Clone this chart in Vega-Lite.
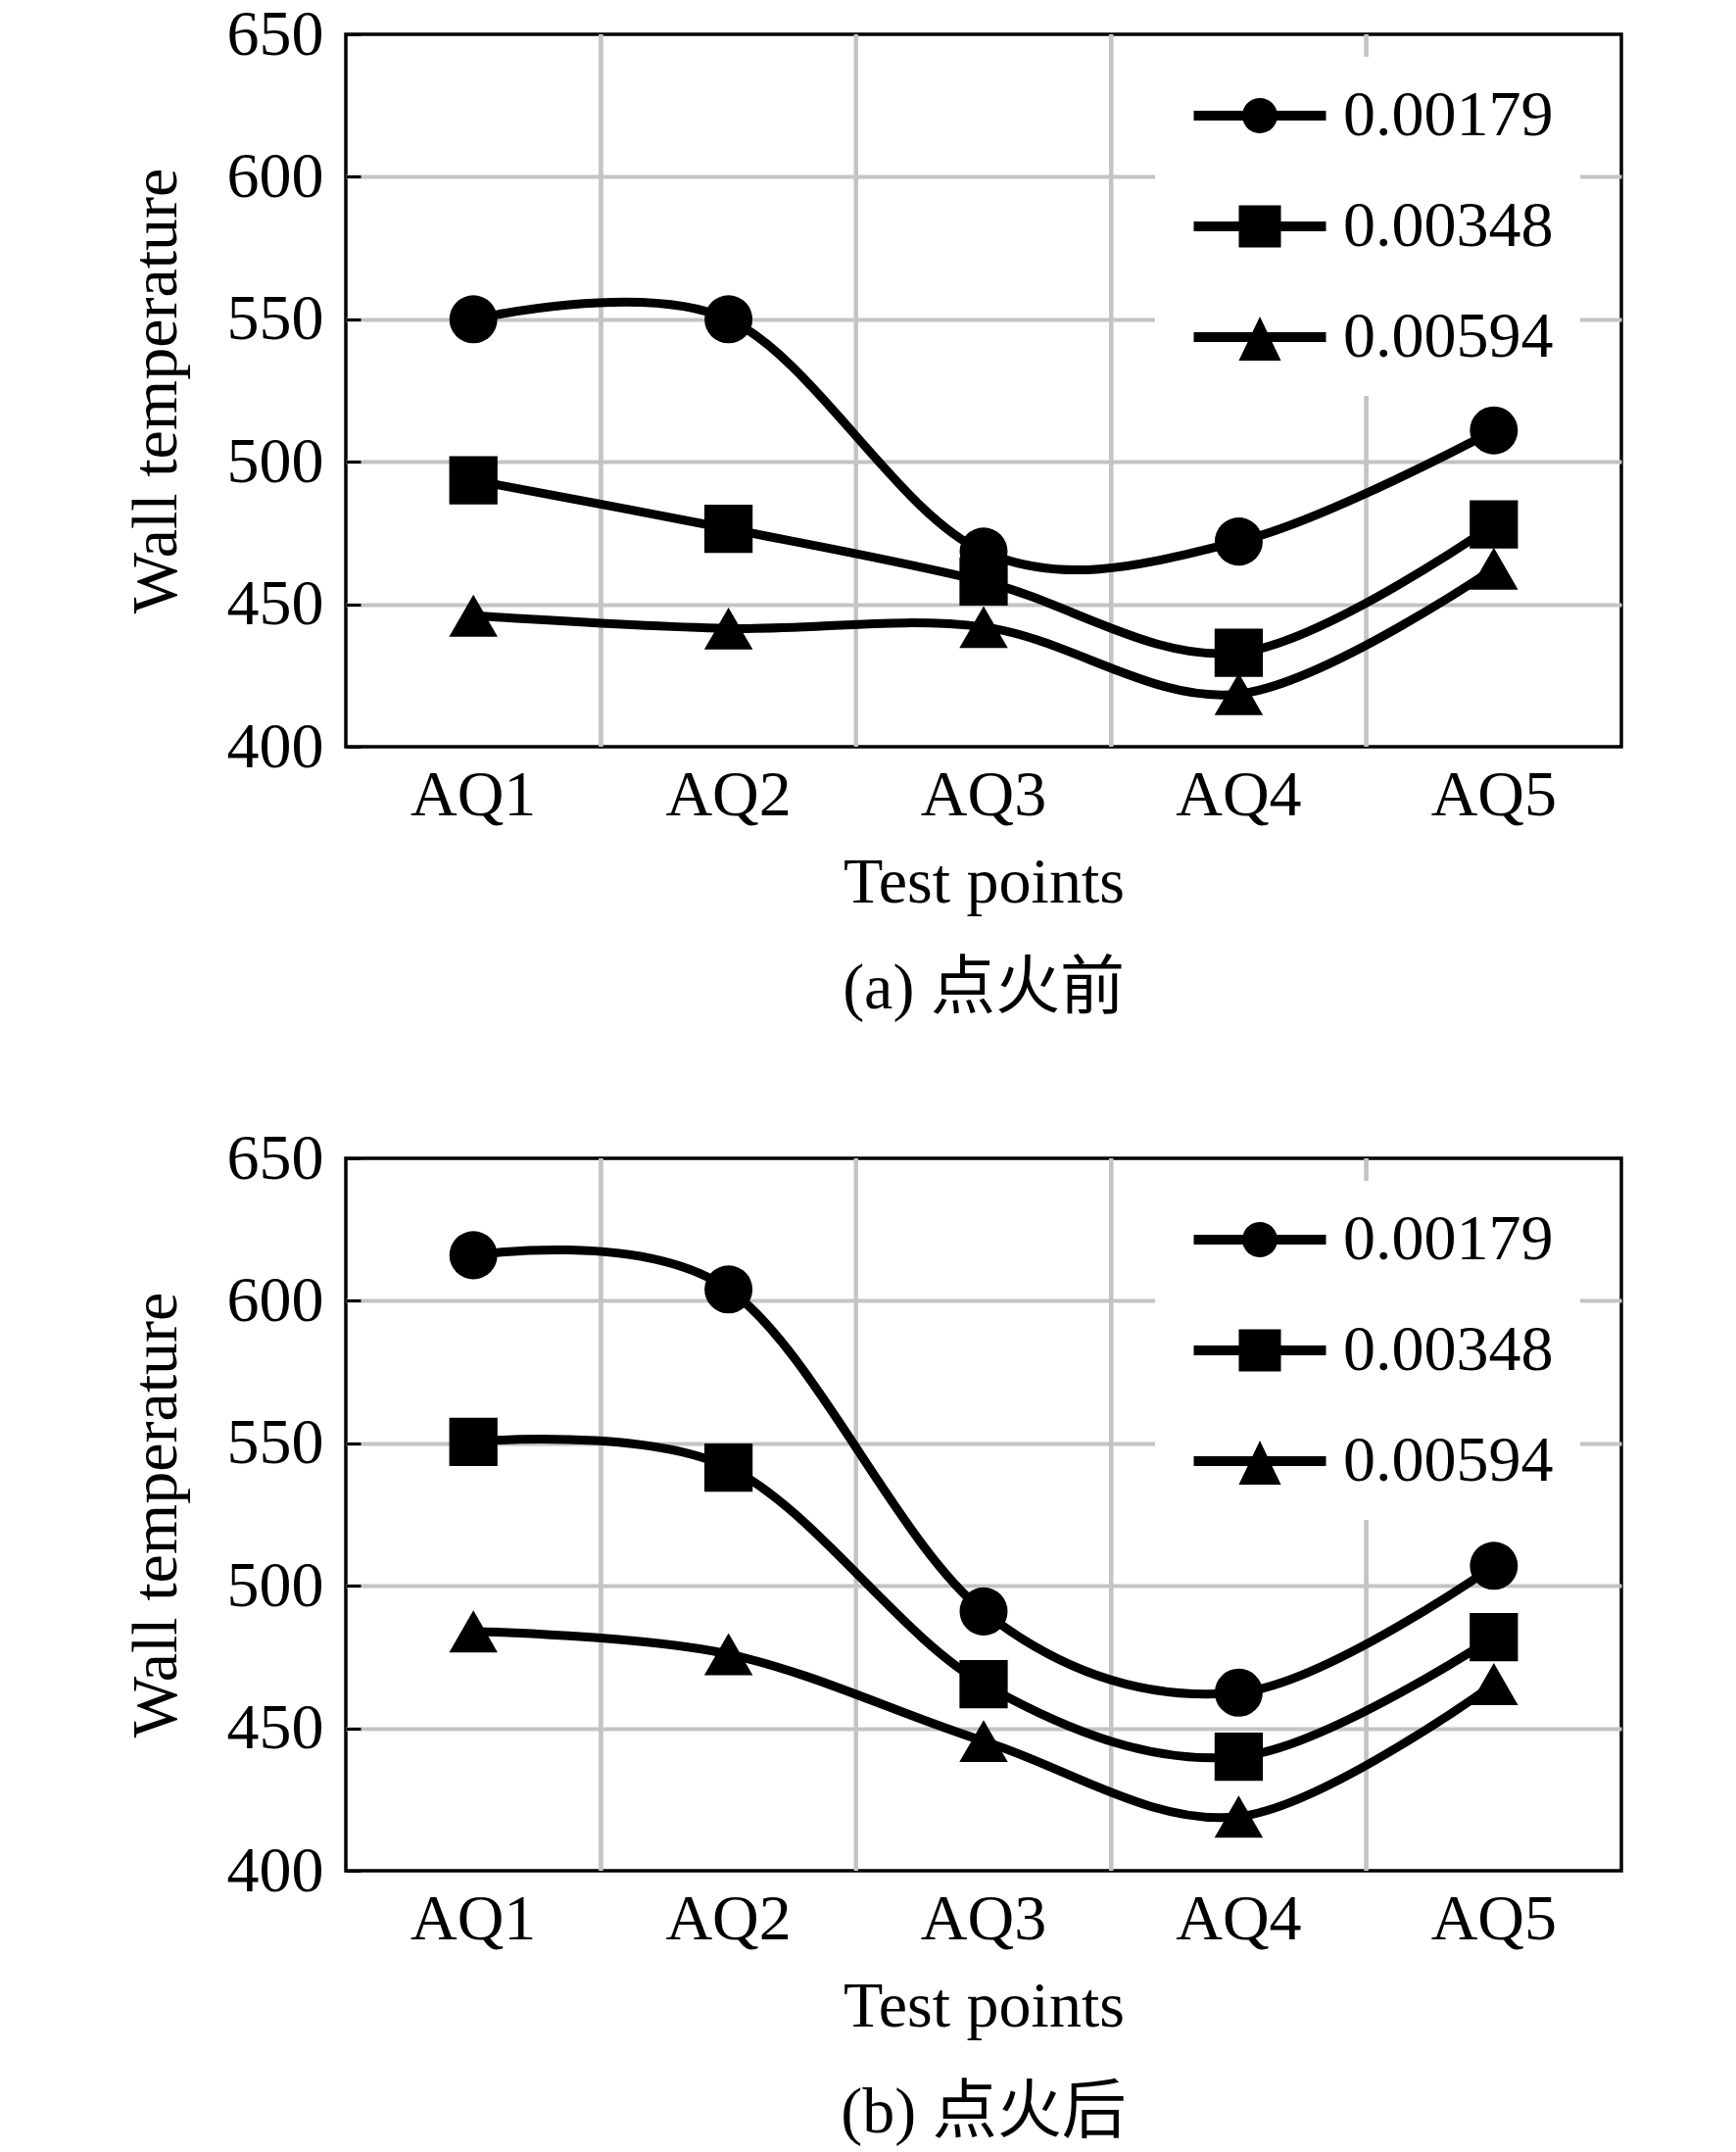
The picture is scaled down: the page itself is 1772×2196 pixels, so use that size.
{
  "$schema": "https://vega.github.io/schema/vega-lite/v6.json",
  "background": "white",
  "padding": {"left": 124, "top": 0, "right": 5, "bottom": 5},
  "datasets": {
    "before": [
      {"point": "AQ1", "series": "0.00179", "temp": 550},
      {"point": "AQ2", "series": "0.00179", "temp": 550},
      {"point": "AQ3", "series": "0.00179", "temp": 468.5},
      {"point": "AQ4", "series": "0.00179", "temp": 472},
      {"point": "AQ5", "series": "0.00179", "temp": 511},
      {"point": "AQ1", "series": "0.00348", "temp": 493.5},
      {"point": "AQ2", "series": "0.00348", "temp": 476.5},
      {"point": "AQ3", "series": "0.00348", "temp": 458},
      {"point": "AQ4", "series": "0.00348", "temp": 433},
      {"point": "AQ5", "series": "0.00348", "temp": 478},
      {"point": "AQ1", "series": "0.00594", "temp": 446},
      {"point": "AQ2", "series": "0.00594", "temp": 441.5},
      {"point": "AQ3", "series": "0.00594", "temp": 442},
      {"point": "AQ4", "series": "0.00594", "temp": 418.5},
      {"point": "AQ5", "series": "0.00594", "temp": 462.5}
    ],
    "after": [
      {"point": "AQ1", "series": "0.00179", "temp": 616},
      {"point": "AQ2", "series": "0.00179", "temp": 604},
      {"point": "AQ3", "series": "0.00179", "temp": 491},
      {"point": "AQ4", "series": "0.00179", "temp": 462.5},
      {"point": "AQ5", "series": "0.00179", "temp": 507},
      {"point": "AQ1", "series": "0.00348", "temp": 550.5},
      {"point": "AQ2", "series": "0.00348", "temp": 541.5},
      {"point": "AQ3", "series": "0.00348", "temp": 465.5},
      {"point": "AQ4", "series": "0.00348", "temp": 440},
      {"point": "AQ5", "series": "0.00348", "temp": 482},
      {"point": "AQ1", "series": "0.00594", "temp": 484},
      {"point": "AQ2", "series": "0.00594", "temp": 476},
      {"point": "AQ3", "series": "0.00594", "temp": 445.5},
      {"point": "AQ4", "series": "0.00594", "temp": 419},
      {"point": "AQ5", "series": "0.00594", "temp": 465.5}
    ]
  },
  "spacing": 103,
  "vconcat": [
    {
      "data": {"name": "before"},
      "width": 1302,
      "height": 727,
      "title": {"text": "(a) 点火前", "orient": "bottom", "offset": 44, "anchor": "middle", "frame": "group"},
      "layer": [
        {
          "transform": [{"filter": "datum.point !== 'AQ1'"}],
          "mark": {"type": "rule", "color": "#c4c4c4", "strokeWidth": 4},
          "encoding": {
            "x": {"field": "point", "type": "ordinal", "bandPosition": 0, "scale": {"type": "band", "paddingInner": 0, "paddingOuter": 0},
              "axis": {"title": "Test points", "labelAngle": 0, "ticks": false, "domain": false, "grid": false, "labelPadding": 17, "titlePadding": 24}}
          }
        },
        {
          "mark": {"type": "line", "interpolate": "cardinal", "color": "black", "strokeWidth": 9},
          "encoding": {
            "x": {"field": "point", "type": "ordinal", "bandPosition": 0.5},
            "y": {"field": "temp", "type": "quantitative", "scale": {"domain": [400, 650], "nice": false, "zero": false},
              "axis": {"title": "Wall temperature", "values": [400, 450, 500, 550, 600, 650], "domain": false, "tickSize": -15, "labelPadding": 38, "titlePadding": 38,
                "gridColor": {"condition": {"test": "datum.value === 400 || datum.value === 650", "value": "transparent"}, "value": "#c4c4c4"}}},
            "detail": {"field": "series", "type": "nominal"}
          }
        },
        {
          "mark": {"type": "point", "filled": true, "color": "black", "opacity": 1},
          "encoding": {
            "x": {"field": "point", "type": "ordinal", "bandPosition": 0.5},
            "y": {"field": "temp", "type": "quantitative"},
            "shape": {"field": "series", "type": "nominal", "scale": {"domain": ["0.00179", "0.00348", "0.00594"], "range": ["circle", "square", "triangle-up"]}, "legend": null},
            "size": {"field": "series", "type": "nominal", "scale": {"domain": ["0.00179", "0.00348", "0.00594"], "range": [2400, 2450, 2800]}, "legend": null}
          }
        },
        {
          "transform": [{"filter": "false"}],
          "mark": {"type": "point", "filled": true, "color": "black", "opacity": 1, "size": 4356, "strokeWidth": 0},
          "encoding": {
            "shape": {"field": "series", "type": "nominal",
              "scale": {"domain": ["0.00179", "0.00348", "0.00594"], "range": [
                "M-2.045,-0.152H2.045V0.152H-2.045ZM0.545,0A0.545,0.545,0,1,1,-0.545,0A0.545,0.545,0,1,1,0.545,0Z",
                "M-2.045,-0.152H2.045V0.152H-2.045ZM-0.652,-0.652H0.652V0.652H-0.652Z",
                "M-2.045,-0.152H2.045V0.152H-2.045ZM0,-0.636L0.652,0.727H-0.652Z"]},
              "legend": {"title": null, "orient": "none", "legendX": 826, "legendY": 23, "fillColor": "white", "padding": 27, "symbolSize": 4356, "symbolStrokeWidth": 0, "symbolFillColor": "black", "symbolOpacity": 1, "symbolOffset": 47, "labelOffset": 52, "labelLimit": 400, "rowPadding": 47}}
          }
        }
      ],
      "resolve": {"scale": {"shape": "independent"}}
    },
    {
      "data": {"name": "after"},
      "width": 1302,
      "height": 727,
      "title": {"text": "(b) 点火后", "orient": "bottom", "offset": 44, "anchor": "middle", "frame": "group"},
      "layer": [
        {
          "transform": [{"filter": "datum.point !== 'AQ1'"}],
          "mark": {"type": "rule", "color": "#c4c4c4", "strokeWidth": 4},
          "encoding": {
            "x": {"field": "point", "type": "ordinal", "bandPosition": 0, "scale": {"type": "band", "paddingInner": 0, "paddingOuter": 0},
              "axis": {"title": "Test points", "labelAngle": 0, "ticks": false, "domain": false, "grid": false, "labelPadding": 17, "titlePadding": 24}}
          }
        },
        {
          "mark": {"type": "line", "interpolate": "cardinal", "color": "black", "strokeWidth": 9},
          "encoding": {
            "x": {"field": "point", "type": "ordinal", "bandPosition": 0.5},
            "y": {"field": "temp", "type": "quantitative", "scale": {"domain": [400, 650], "nice": false, "zero": false},
              "axis": {"title": "Wall temperature", "values": [400, 450, 500, 550, 600, 650], "domain": false, "tickSize": -15, "labelPadding": 38, "titlePadding": 38,
                "gridColor": {"condition": {"test": "datum.value === 400 || datum.value === 650", "value": "transparent"}, "value": "#c4c4c4"}}},
            "detail": {"field": "series", "type": "nominal"}
          }
        },
        {
          "mark": {"type": "point", "filled": true, "color": "black", "opacity": 1},
          "encoding": {
            "x": {"field": "point", "type": "ordinal", "bandPosition": 0.5},
            "y": {"field": "temp", "type": "quantitative"},
            "shape": {"field": "series", "type": "nominal", "scale": {"domain": ["0.00179", "0.00348", "0.00594"], "range": ["circle", "square", "triangle-up"]}, "legend": null},
            "size": {"field": "series", "type": "nominal", "scale": {"domain": ["0.00179", "0.00348", "0.00594"], "range": [2400, 2450, 2800]}, "legend": null}
          }
        },
        {
          "transform": [{"filter": "false"}],
          "mark": {"type": "point", "filled": true, "color": "black", "opacity": 1, "size": 4356, "strokeWidth": 0},
          "encoding": {
            "shape": {"field": "series", "type": "nominal",
              "scale": {"domain": ["0.00179", "0.00348", "0.00594"], "range": [
                "M-2.045,-0.152H2.045V0.152H-2.045ZM0.545,0A0.545,0.545,0,1,1,-0.545,0A0.545,0.545,0,1,1,0.545,0Z",
                "M-2.045,-0.152H2.045V0.152H-2.045ZM-0.652,-0.652H0.652V0.652H-0.652Z",
                "M-2.045,-0.152H2.045V0.152H-2.045ZM0,-0.636L0.652,0.727H-0.652Z"]},
              "legend": {"title": null, "orient": "none", "legendX": 826, "legendY": 23, "fillColor": "white", "padding": 27, "symbolSize": 4356, "symbolStrokeWidth": 0, "symbolFillColor": "black", "symbolOpacity": 1, "symbolOffset": 47, "labelOffset": 52, "labelLimit": 400, "rowPadding": 47}}
          }
        }
      ],
      "resolve": {"scale": {"shape": "independent"}}
    }
  ],
  "config": {
    "font": "Liberation Serif",
    "view": {"stroke": "black", "strokeWidth": 3.5},
    "axis": {
      "labelFont": "Liberation Serif", "labelFontSize": 66, "labelColor": "black",
      "titleFont": "Liberation Serif", "titleFontSize": 66, "titleFontWeight": "normal", "titleColor": "black",
      "tickColor": "black", "tickWidth": 3, "gridWidth": 4
    },
    "legend": {"labelFont": "Liberation Serif", "labelFontSize": 66, "labelColor": "black"},
    "title": {"font": "Liberation Serif, Noto Sans CJK SC", "fontSize": 66, "fontWeight": "normal", "color": "black"}
  }
}
